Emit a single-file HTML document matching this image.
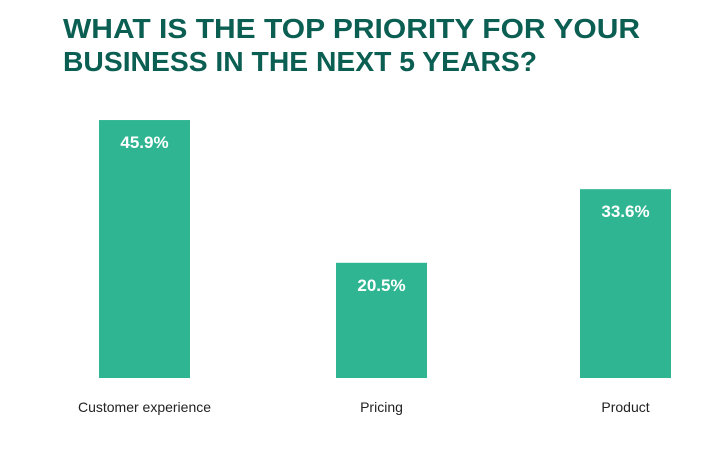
<!DOCTYPE html>
<html><head><meta charset="utf-8"><style>html,body{margin:0;padding:0;background:#fff}svg{display:block}</style></head>
<body>
<svg id="chart" width="709" height="466" viewBox="0 0 709 466" xmlns="http://www.w3.org/2000/svg" font-family="Liberation Sans, sans-serif">
<text x="63" y="38" font-size="28" font-weight="bold" fill="#0b5e52" textLength="577" lengthAdjust="spacingAndGlyphs">WHAT IS THE TOP PRIORITY FOR YOUR</text>
<text x="63" y="71" font-size="28" font-weight="bold" fill="#0b5e52" textLength="474" lengthAdjust="spacingAndGlyphs">BUSINESS IN THE NEXT 5 YEARS?</text>
<g id="bars"></g>
</svg>
<script>
const categories = ["Customer experience", "Pricing", "Product"];
const values = [45.9, 20.5, 33.6];
const valueLabels = ["45.9%", "20.5%", "33.6%"];
const baseY = 378, pxPerPct = 5.62, barW = 91;
const centers = [144.5, 381.5, 625.5];
function yScale(v){ return baseY - v * pxPerPct; }
const g = document.getElementById('bars');
const NS = "http://www.w3.org/2000/svg";
categories.forEach((c, i) => {
  const x = centers[i] - barW/2, y = yScale(values[i]);
  const r = document.createElementNS(NS, 'rect');
  
  
  r.setAttribute('x', x); r.setAttribute('y', y);
  r.setAttribute('width', barW); r.setAttribute('height', baseY - y);
  r.setAttribute('fill', '#2fb592');
  g.appendChild(r);
  const t = document.createElementNS(NS, 'text');
  
  
  t.setAttribute('x', centers[i]); t.setAttribute('y', y + 28);
  t.setAttribute('text-anchor', 'middle'); t.setAttribute('font-size', '17');
  t.setAttribute('font-weight', 'bold'); t.setAttribute('fill', '#fff');
  t.textContent = valueLabels[i];
  g.appendChild(t);
  const l = document.createElementNS(NS, 'text');
  
  
  l.setAttribute('x', centers[i]); l.setAttribute('y', 412);
  l.setAttribute('text-anchor', 'middle'); l.setAttribute('font-size', '14');
  l.setAttribute('fill', '#222');
  l.textContent = c;
  g.appendChild(l);
});
</script>
</body></html>
